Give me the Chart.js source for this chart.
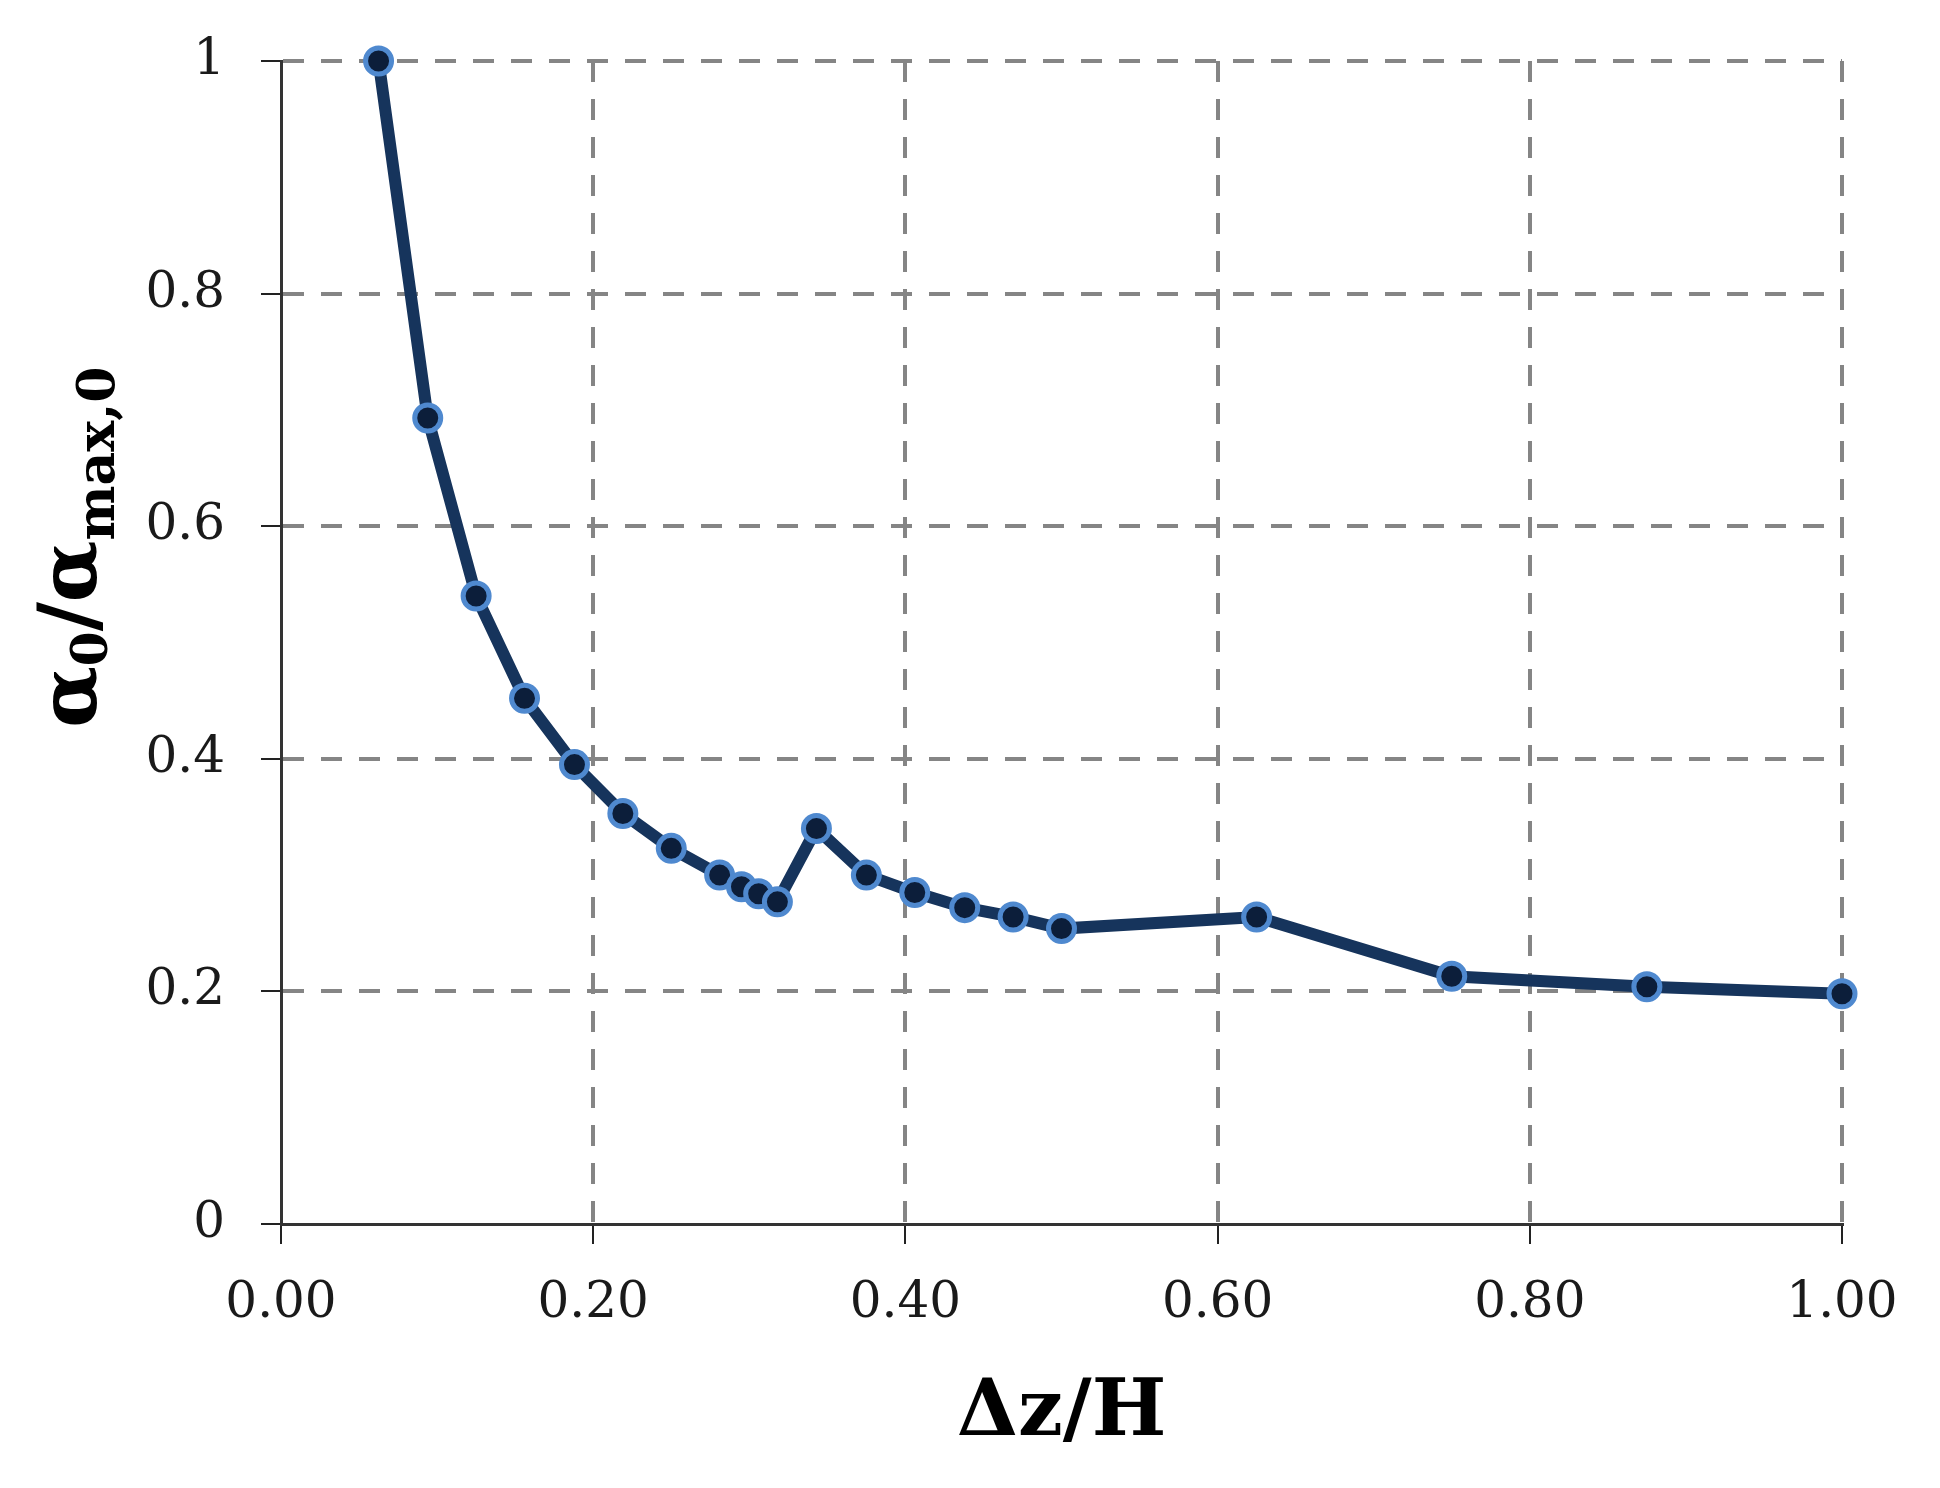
<!DOCTYPE html>
<html lang="en">
<head>
    <meta charset="UTF-8">
    <title>alpha0 / alpha max,0 vs dz/H</title>
    <script src="https://cdn.jsdelivr.net/npm/chart.js@4.4.0/dist/chart.umd.min.js"></script>
    <style>
        body { margin: 0; background: #fff; }
    </style>
</head>
<body>

    <canvas id="chart" width="1940" height="1488"></canvas>

    <script>
        // values
        const dzH = [0.0625, 0.094, 0.125, 0.156, 0.188, 0.219, 0.25, 0.281, 0.295, 0.306, 0.318,
                     0.343, 0.375, 0.406, 0.438, 0.469, 0.5, 0.625, 0.75, 0.875, 1.0];
        const alphaRatio = [1.0, 0.693, 0.540, 0.452, 0.395, 0.353, 0.323, 0.300, 0.290, 0.284, 0.277,
                            0.340, 0.300, 0.285, 0.272, 0.264, 0.254, 0.264, 0.213, 0.204, 0.198];
        const xTickLabels = ['0.00', '0.20', '0.40', '0.60', '0.80', '1.00'];
        const yTickLabels = ['0', '0.2', '0.4', '0.6', '0.8', '1'];

        const points = dzH.map((x, i) => ({x: x, y: alphaRatio[i]}));

        // no dashed grid line on top of the solid axis lines
        const gridColor = c => (c.tick && c.tick.value === 0) ? 'rgba(0,0,0,0)' : '#858585';

        // y title with subscripts, drawn rotated
        const yTitle = {
            id: 'yTitle',
            afterDraw(chart) {
                const ctx = chart.ctx;
                const area = chart.chartArea;
                const parts = [
                    {t: 'α', size: 80, dy: 0}, {t: '0', size: 50, dy: 11}, {t: '/', size: 80, dy: 0},
                    {t: 'α', size: 80, dy: 0}, {t: 'max,0', size: 52, dy: 18}
                ];
                ctx.save();
                let total = 0;
                parts.forEach(p => {
                    ctx.font = 'bold ' + p.size + 'px "DejaVu Serif"';
                    p.w = ctx.measureText(p.t).width;
                    total += p.w;
                });
                const cy = area.top + (area.bottom - area.top) * 0.418;
                ctx.translate(96, cy);
                ctx.rotate(-Math.PI / 2);
                ctx.fillStyle = '#000';
                ctx.textBaseline = 'alphabetic';
                let x = -total / 2;
                parts.forEach(p => {
                    ctx.font = 'bold ' + p.size + 'px "DejaVu Serif"';
                    ctx.fillText(p.t, x, p.dy);
                    x += p.w;
                });
                ctx.restore();
            }
        };

        const ctx = document.getElementById('chart').getContext('2d');
        const myChart = new Chart(ctx, {
            type: 'scatter',
            data: {
                datasets: [{
                    data: points,
                    showLine: true,
                    borderColor: '#16345c',
                    borderWidth: 12,
                    pointRadius: 13,
                    pointBorderWidth: 5,
                    pointBackgroundColor: '#0c1e3a',
                    pointBorderColor: '#4f89cf',
                    clip: false
                }]
            },
            options: {
                responsive: false,
                animation: false,
                layout: {padding: {left: 0, top: 61, right: 98, bottom: 0}},
                plugins: {
                    legend: {display: false},
                    tooltip: {enabled: false}
                },
                scales: {
                    x: {
                        type: 'linear',
                        min: 0,
                        max: 1,
                        afterFit(scale) {
                            scale.height = 264;
                            scale.paddingLeft = 0;
                            scale.paddingRight = 0;
                        },
                        afterBuildTicks(scale) {
                            scale.ticks = xTickLabels.map(v => ({value: parseFloat(v)}));
                        },
                        ticks: {
                            callback: (v, i) => xTickLabels[i],
                            font: {family: 'DejaVu Serif', size: 50},
                            color: '#1a1a1a',
                            padding: 30,
                            maxRotation: 0
                        },
                        grid: {
                            color: gridColor,
                            lineWidth: 4,
                            tickColor: '#222',
                            tickWidth: 2,
                            tickLength: 20,
                            tickBorderDash: []
                        },
                        border: {display: true, color: '#333', width: 3, dash: [21, 17]},
                        title: {
                            display: true,
                            text: 'Δz/H',
                            font: {family: 'DejaVu Serif', size: 79, weight: 'bold'},
                            color: '#000',
                            padding: {top: 0, bottom: 26}
                        }
                    },
                    y: {
                        type: 'linear',
                        min: 0,
                        max: 1,
                        afterFit(scale) {
                            scale.width = 281;
                            scale.paddingTop = 0;
                            scale.paddingBottom = 0;
                        },
                        afterBuildTicks(scale) {
                            scale.ticks = yTickLabels.map(v => ({value: parseFloat(v)}));
                        },
                        ticks: {
                            callback: (v, i) => yTickLabels[i],
                            font: {family: 'DejaVu Serif', size: 50},
                            color: '#1a1a1a',
                            padding: 36
                        },
                        grid: {
                            color: gridColor,
                            lineWidth: 4,
                            tickColor: '#222',
                            tickWidth: 2,
                            tickLength: 20,
                            tickBorderDash: []
                        },
                        border: {display: true, color: '#333', width: 3, dash: [21, 17]}
                    }
                }
            },
            plugins: [yTitle]
        });
    </script>
</body>
</html>
